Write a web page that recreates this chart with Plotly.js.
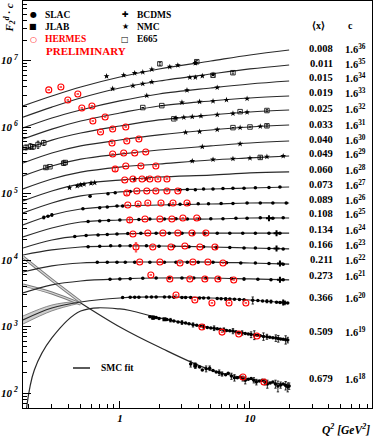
<!DOCTYPE html>
<html>
<head>
<meta charset="utf-8">
<script src="https://cdn.plot.ly/plotly-3.0.1.min.js"></script>
<style>
  html, body { margin: 0; padding: 0; background: #fff; }
  #chart { width: 374px; height: 438px; }
</style>
</head>
<body>
<div id="chart"></div>
<script>
/* global Plotly */

// x bins and the multiplier exponent c = 1.6^k
const xBins = [0.008, 0.011, 0.015, 0.019, 0.025, 0.033, 0.040, 0.049, 0.060, 0.073, 0.089, 0.108, 0.134, 0.166, 0.211, 0.273, 0.366, 0.509, 0.679];
const cPowers = [36, 35, 34, 33, 32, 31, 30, 29, 28, 27, 26, 25, 24, 23, 22, 21, 20, 19, 18];

// SMC fit, F2 per bin
const fitQ2 = [0.18, 0.3, 0.5, 1, 2, 5, 10, 20];
const fitQ2Peak = [0.19, 0.22, 0.3, 0.5, 1, 2, 5, 10, 20];
const fitQ2Tail = [0.5, 1, 2, 5, 10, 20];
const fit008 = [0.093, 0.131, 0.179, 0.253, 0.334, 0.441, 0.543, 0.645];
const fit011 = [0.101, 0.143, 0.196, 0.277, 0.353, 0.450, 0.535, 0.614];
const fit015 = [0.111, 0.157, 0.207, 0.283, 0.360, 0.443, 0.509, 0.564];
const fit019 = [0.121, 0.171, 0.226, 0.298, 0.380, 0.452, 0.501, 0.537];
const fit025 = [0.133, 0.187, 0.239, 0.304, 0.375, 0.445, 0.494, 0.529];
const fit033 = [0.135, 0.191, 0.244, 0.300, 0.357, 0.424, 0.470, 0.504];
const fit040 = [0.138, 0.195, 0.248, 0.295, 0.339, 0.390, 0.432, 0.463];
const fit049 = [0.141, 0.199, 0.253, 0.301, 0.334, 0.384, 0.412, 0.441];
const fit060 = [0.149, 0.210, 0.268, 0.307, 0.341, 0.365, 0.392, 0.406];
const fit073 = [0.157, 0.222, 0.283, 0.325, 0.348, 0.360, 0.373, 0.386];
const fit089 = [0.166, 0.234, 0.288, 0.320, 0.331, 0.343, 0.355, 0.355];
const fit108 = [0.175, 0.239, 0.294, 0.315, 0.326, 0.326, 0.338, 0.338];
const fit134 = [0.191, 0.252, 0.290, 0.311, 0.321, 0.321, 0.321, 0.321];
const fit166 = [0.240, 0.286, 0.317, 0.328, 0.328, 0.317, 0.306, 0.296];
const fit211 = [0.213, 0.263, 0.291, 0.301, 0.301, 0.301, 0.291, 0.281];
const fit273 = [0.165, 0.218, 0.250, 0.268, 0.277, 0.277, 0.268, 0.259];
const fit366 = [0.104, 0.157, 0.193, 0.222, 0.230, 0.222, 0.207, 0.187];
const fit509 = [0.0069, 0.0293, 0.0889, 0.226, 0.243, 0.178, 0.126, 0.102, 0.083];
const fit679 = [0.478, 0.208, 0.104, 0.0469, 0.0344, 0.0279];

// wide error bands of the fit at low Q2
const bandQ2 = [0.18, 0.3, 0.5];
const band366Hi = [0.119, 0.174, 0.200];
const band366Lo = [0.090, 0.142, 0.187];
const band679Hi = [2.35, 1.06, 0.495];
const band679Lo = [0.89, 0.675, 0.46];

// data points: [x bin, Q2, F2, error]
const slac = [
    [0.073, 0.59, 0.28, 0], [0.073, 0.81, 0.305, 0], [0.073, 0.92, 0.315, 0], [0.073, 1.2, 0.33, 0], [0.073, 2.9, 0.35, 0], [0.073, 3.3, 0.355, 0], [0.073, 3.8, 0.35, 0], [0.073, 4.4, 0.36, 0], [0.073, 5.2, 0.36, 0], [0.073, 6.2, 0.365, 0], [0.073, 7.4, 0.37, 0], [0.073, 9.0, 0.37, 0], [0.073, 11, 0.375, 0], [0.073, 14, 0.38, 0], [0.073, 17, 0.385, 0],
    [0.089, 0.26, 0.215, 0.01], [0.089, 0.28, 0.225, 0], [0.089, 0.30, 0.235, 0.01], [0.089, 0.52, 0.29, 0], [0.089, 0.70, 0.30, 0], [0.089, 0.80, 0.31, 0], [0.089, 0.95, 0.32, 0], [0.089, 1.05, 0.32, 0], [0.089, 2.4, 0.335, 0], [0.089, 2.9, 0.34, 0], [0.089, 3.4, 0.34, 0], [0.089, 4.0, 0.345, 0], [0.089, 4.8, 0.345, 0], [0.089, 6.0, 0.35, 0], [0.089, 7.4, 0.35, 0], [0.089, 9.5, 0.355, 0], [0.089, 12, 0.355, 0], [0.089, 15, 0.355, 0], [0.089, 19, 0.355, 0],
    [0.108, 0.57, 0.30, 0], [0.108, 0.70, 0.305, 0], [0.108, 0.82, 0.31, 0], [0.108, 1.0, 0.315, 0], [0.108, 1.4, 0.32, 0], [0.108, 1.7, 0.325, 0], [0.108, 2.2, 0.325, 0], [0.108, 2.7, 0.33, 0], [0.108, 3.3, 0.325, 0], [0.108, 4.1, 0.33, 0], [0.108, 5.0, 0.33, 0], [0.108, 6.2, 0.33, 0], [0.108, 7.8, 0.335, 0], [0.108, 9.5, 0.335, 0], [0.108, 12, 0.34, 0], [0.108, 15, 0.335, 0], [0.108, 18, 0.34, 0],
    [0.134, 0.45, 0.285, 0], [0.134, 0.55, 0.295, 0], [0.134, 0.68, 0.30, 0], [0.134, 0.80, 0.305, 0], [0.134, 0.95, 0.31, 0], [0.134, 1.15, 0.315, 0], [0.134, 1.45, 0.32, 0], [0.134, 1.9, 0.32, 0], [0.134, 2.4, 0.32, 0], [0.134, 3.0, 0.32, 0], [0.134, 3.7, 0.315, 0], [0.134, 4.5, 0.32, 0], [0.134, 5.6, 0.32, 0], [0.134, 7, 0.32, 0], [0.134, 8.8, 0.32, 0], [0.134, 11, 0.32, 0], [0.134, 14, 0.32, 0], [0.134, 17, 0.32, 0],
    [0.166, 0.57, 0.32, 0], [0.166, 0.7, 0.325, 0], [0.166, 0.85, 0.33, 0], [0.166, 1.0, 0.33, 0], [0.166, 1.2, 0.33, 0], [0.166, 1.6, 0.33, 0], [0.166, 2.0, 0.325, 0], [0.166, 2.6, 0.325, 0], [0.166, 3.4, 0.32, 0], [0.166, 4.4, 0.32, 0], [0.166, 5.5, 0.315, 0], [0.166, 7, 0.31, 0], [0.166, 9, 0.305, 0], [0.166, 11, 0.305, 0], [0.166, 14, 0.30, 0], [0.166, 18, 0.295, 0],
    [0.211, 0.67, 0.30, 0], [0.211, 0.8, 0.30, 0], [0.211, 0.95, 0.30, 0], [0.211, 1.1, 0.30, 0], [0.211, 1.3, 0.30, 0], [0.211, 1.7, 0.30, 0], [0.211, 2.2, 0.30, 0], [0.211, 2.7, 0.30, 0], [0.211, 3.3, 0.30, 0], [0.211, 4.0, 0.30, 0], [0.211, 5.2, 0.30, 0], [0.211, 6.6, 0.295, 0], [0.211, 8.5, 0.29, 0], [0.211, 11, 0.29, 0], [0.211, 14, 0.285, 0], [0.211, 18, 0.28, 0],
    [0.273, 0.84, 0.265, 0], [0.273, 1.0, 0.268, 0], [0.273, 1.2, 0.27, 0], [0.273, 1.5, 0.275, 0], [0.273, 1.9, 0.277, 0], [0.273, 2.4, 0.277, 0], [0.273, 3.0, 0.277, 0], [0.273, 3.7, 0.277, 0], [0.273, 4.6, 0.277, 0], [0.273, 5.8, 0.275, 0], [0.273, 7.2, 0.272, 0], [0.273, 9, 0.268, 0.01], [0.273, 11.5, 0.265, 0], [0.273, 14.5, 0.262, 0], [0.273, 18, 0.26, 0],
    [0.366, 1.05, 0.225, 0], [0.366, 1.2, 0.227, 0], [0.366, 1.4, 0.228, 0], [0.366, 1.6, 0.23, 0], [0.366, 1.9, 0.23, 0], [0.366, 2.2, 0.23, 0], [0.366, 2.6, 0.228, 0], [0.366, 3.0, 0.226, 0], [0.366, 3.5, 0.225, 0], [0.366, 4.1, 0.222, 0], [0.366, 4.8, 0.222, 0], [0.366, 5.6, 0.218, 0], [0.366, 6.5, 0.215, 0.01], [0.366, 7.6, 0.212, 0], [0.366, 9, 0.208, 0], [0.366, 10.5, 0.205, 0.025], [0.366, 12.5, 0.20, 0], [0.366, 14.5, 0.196, 0.01], [0.366, 17, 0.19, 0], [0.366, 19.5, 0.187, 0],
    [0.366, 1.3, 0.228, 0], [0.366, 1.75, 0.23, 0], [0.366, 2.4, 0.229, 0], [0.366, 3.2, 0.226, 0], [0.366, 4.4, 0.222, 0], [0.366, 6, 0.216, 0], [0.366, 7, 0.214, 0], [0.366, 8.3, 0.21, 0], [0.366, 11.5, 0.203, 0], [0.366, 13.5, 0.198, 0.01], [0.366, 16, 0.192, 0], [0.366, 18.5, 0.188, 0.012],
    [0.509, 1.7, 0.185, 0], [0.509, 2.0, 0.175, 0], [0.509, 2.3, 0.168, 0], [0.509, 2.6, 0.16, 0], [0.509, 3.0, 0.152, 0.01], [0.509, 3.4, 0.145, 0], [0.509, 3.9, 0.138, 0], [0.509, 4.4, 0.132, 0.01], [0.509, 5.0, 0.126, 0], [0.509, 5.6, 0.122, 0], [0.509, 6.3, 0.118, 0.008], [0.509, 7.0, 0.114, 0], [0.509, 7.8, 0.11, 0], [0.509, 8.7, 0.106, 0.008], [0.509, 9.7, 0.102, 0], [0.509, 10.8, 0.099, 0.015], [0.509, 12, 0.096, 0], [0.509, 13.5, 0.093, 0.008], [0.509, 15, 0.090, 0], [0.509, 16.5, 0.087, 0.01], [0.509, 18, 0.085, 0], [0.509, 19.5, 0.083, 0.008],
    [0.509, 1.9, 0.18, 0], [0.509, 2.45, 0.165, 0.01], [0.509, 2.8, 0.155, 0], [0.509, 3.2, 0.15, 0], [0.509, 3.65, 0.14, 0.01], [0.509, 4.15, 0.136, 0], [0.509, 4.7, 0.128, 0], [0.509, 5.3, 0.125, 0.01], [0.509, 5.9, 0.12, 0], [0.509, 6.6, 0.115, 0], [0.509, 7.4, 0.113, 0.01], [0.509, 8.2, 0.107, 0], [0.509, 9.2, 0.104, 0], [0.509, 10.2, 0.1, 0.01], [0.509, 11.4, 0.098, 0], [0.509, 12.7, 0.094, 0.012], [0.509, 14.2, 0.091, 0], [0.509, 15.8, 0.089, 0.01], [0.509, 17.2, 0.086, 0], [0.509, 18.8, 0.084, 0.012],
    [0.679, 3.5, 0.058, 0.006], [0.679, 4.1, 0.052, 0], [0.679, 4.6, 0.049, 0.005], [0.679, 5.2, 0.046, 0], [0.679, 5.8, 0.043, 0.004], [0.679, 6.5, 0.040, 0], [0.679, 7.2, 0.038, 0.004], [0.679, 8, 0.036, 0], [0.679, 8.8, 0.035, 0.003], [0.679, 9.7, 0.034, 0], [0.679, 10.7, 0.033, 0.003], [0.679, 11.8, 0.032, 0], [0.679, 13, 0.031, 0.003], [0.679, 14.3, 0.030, 0], [0.679, 15.7, 0.029, 0.004], [0.679, 17.2, 0.028, 0.003], [0.679, 18.8, 0.0275, 0.004], [0.679, 20, 0.027, 0.003],
    [0.679, 3.8, 0.054, 0.004], [0.679, 4.3, 0.047, 0], [0.679, 4.9, 0.050, 0.004], [0.679, 5.5, 0.044, 0], [0.679, 6.1, 0.041, 0.003], [0.679, 6.8, 0.042, 0], [0.679, 7.6, 0.036, 0.004], [0.679, 8.4, 0.037, 0], [0.679, 9.2, 0.033, 0.004], [0.679, 10.2, 0.035, 0], [0.679, 11.2, 0.031, 0.003], [0.679, 12.4, 0.033, 0], [0.679, 13.6, 0.029, 0.004], [0.679, 15, 0.031, 0], [0.679, 16.4, 0.027, 0.005], [0.679, 18, 0.029, 0], [0.679, 19.5, 0.026, 0.004]
];

const nmc = [
    [0.008, 0.79, 0.26, 0], [0.008, 1.07, 0.27, 0], [0.008, 1.30, 0.29, 0], [0.008, 1.50, 0.30, 0], [0.008, 1.76, 0.33, 0], [0.008, 2.42, 0.36, 0], [0.008, 2.79, 0.38, 0], [0.008, 3.8, 0.41, 0.02],
    [0.011, 0.88, 0.27, 0], [0.011, 1.26, 0.30, 0], [0.011, 1.50, 0.32, 0], [0.011, 1.76, 0.34, 0], [0.011, 3.45, 0.40, 0], [0.011, 3.8, 0.40, 0], [0.011, 4.3, 0.42, 0], [0.011, 5.2, 0.44, 0],
    [0.015, 1.61, 0.34, 0], [0.015, 3.28, 0.41, 0], [0.015, 5.6, 0.45, 0],
    [0.019, 3.0, 0.43, 0], [0.019, 4.1, 0.44, 0], [0.019, 5.2, 0.45, 0], [0.019, 6.6, 0.47, 0], [0.019, 9.5, 0.49, 0],
    [0.025, 2.7, 0.40, 0], [0.025, 3.1, 0.41, 0], [0.025, 3.6, 0.42, 0], [0.025, 4.2, 0.43, 0], [0.025, 5.6, 0.45, 0], [0.025, 7.4, 0.47, 0], [0.025, 9.5, 0.49, 0],
    [0.033, 3.2, 0.39, 0], [0.033, 4.1, 0.40, 0], [0.033, 5.6, 0.43, 0], [0.033, 8.4, 0.46, 0], [0.033, 12, 0.48, 0],
    [0.040, 4.3, 0.38, 0], [0.040, 8.4, 0.42, 0],
    [0.049, 3.6, 0.37, 0], [0.049, 5.2, 0.39, 0], [0.049, 7.4, 0.40, 0], [0.049, 10, 0.41, 0], [0.049, 13.5, 0.43, 0], [0.049, 18, 0.44, 0],
    [0.060, 0.41, 0.235, 0], [0.060, 0.47, 0.25, 0], [0.060, 0.50, 0.26, 0.01], [0.060, 0.53, 0.265, 0], [0.060, 0.60, 0.275, 0.01], [0.060, 0.64, 0.28, 0], [0.060, 1.3, 0.315, 0], [0.060, 1.6, 0.32, 0]
];

const e665 = [
    [0.008, 2.03, 0.40, 0.02], [0.008, 3.9, 0.43, 0.02],
    [0.011, 5.2, 0.43, 0], [0.011, 7.4, 0.47, 0.02],
    [0.019, 1.5, 0.36, 0], [0.019, 2.1, 0.385, 0],
    [0.025, 0.19, 0.145, 0.012], [0.025, 0.205, 0.15, 0.015], [0.025, 0.215, 0.148, 0.012], [0.025, 0.235, 0.16, 0.02], [0.025, 0.26, 0.17, 0.015], [0.025, 2.6, 0.39, 0], [0.025, 8.4, 0.50, 0], [0.025, 13.5, 0.52, 0.02],
    [0.033, 7.4, 0.46, 0], [0.033, 10, 0.47, 0], [0.033, 13.5, 0.49, 0.02],
    [0.040, 0.27, 0.185, 0.01], [0.040, 0.29, 0.19, 0], [0.040, 0.37, 0.215, 0.015], [0.040, 0.38, 0.22, 0],
    [0.049, 12, 0.42, 0.02]
];

const bcdms = [
    [0.108, 14, 0.335, 0], [0.134, 16, 0.32, 0], [0.166, 16, 0.30, 0], [0.211, 17, 0.285, 0], [0.273, 17, 0.26, 0], [0.366, 18, 0.19, 0]
];

const jlab = [
    [0.509, 1.8, 0.18, 0.01], [0.509, 2.2, 0.17, 0], [0.679, 3.8, 0.055, 0.005]
];

const hermes = [
    [0.008, 0.284, 0.162, 0], [0.008, 0.352, 0.179, 0],
    [0.011, 0.398, 0.183, 0], [0.011, 0.475, 0.225, 0],
    [0.015, 0.51, 0.222, 0], [0.015, 0.61, 0.238, 0],
    [0.019, 0.62, 0.226, 0], [0.019, 0.77, 0.260, 0],
    [0.025, 0.71, 0.247, 0], [0.025, 0.88, 0.274, 0], [0.025, 1.11, 0.294, 0],
    [0.033, 0.87, 0.270, 0], [0.033, 1.13, 0.290, 0], [0.033, 1.40, 0.310, 0],
    [0.040, 0.88, 0.295, 0], [0.040, 1.07, 0.306, 0], [0.040, 1.30, 0.306, 0], [0.040, 1.58, 0.317, 0],
    [0.049, 0.92, 0.281, 0.02], [0.049, 1.11, 0.312, 0], [0.049, 1.45, 0.312, 0], [0.049, 1.89, 0.312, 0],
    [0.060, 1.09, 0.307, 0], [0.060, 1.26, 0.318, 0], [0.060, 1.48, 0.318, 0], [0.060, 1.70, 0.318, 0], [0.060, 1.96, 0.318, 0], [0.060, 2.30, 0.318, 0],
    [0.073, 1.13, 0.314, 0.02], [0.073, 1.35, 0.336, 0], [0.073, 1.61, 0.336, 0], [0.073, 1.89, 0.336, 0], [0.073, 2.30, 0.336, 0], [0.073, 2.79, 0.336, 0],
    [0.089, 1.15, 0.331, 0], [0.089, 1.38, 0.343, 0], [0.089, 1.64, 0.355, 0], [0.089, 2.07, 0.355, 0], [0.089, 2.56, 0.355, 0], [0.089, 3.28, 0.355, 0],
    [0.108, 1.19, 0.315, 0.025], [0.108, 1.56, 0.326, 0], [0.108, 2.03, 0.326, 0], [0.108, 2.51, 0.326, 0], [0.108, 3.05, 0.338, 0], [0.108, 3.9, 0.338, 0],
    [0.134, 1.26, 0.311, 0], [0.134, 1.64, 0.321, 0], [0.134, 2.14, 0.321, 0], [0.134, 2.79, 0.321, 0], [0.134, 3.58, 0.321, 0], [0.134, 4.58, 0.321, 0],
    [0.166, 1.33, 0.317, 0.05], [0.166, 1.79, 0.317, 0], [0.166, 2.47, 0.317, 0], [0.166, 3.16, 0.328, 0], [0.166, 4.12, 0.317, 0], [0.166, 5.38, 0.317, 0],
    [0.211, 1.42, 0.301, 0], [0.211, 2.03, 0.301, 0], [0.211, 2.9, 0.291, 0], [0.211, 3.64, 0.301, 0], [0.211, 4.75, 0.301, 0], [0.211, 6.2, 0.291, 0],
    [0.273, 1.73, 0.308, 0], [0.273, 2.42, 0.268, 0], [0.273, 3.45, 0.268, 0], [0.273, 4.5, 0.268, 0], [0.273, 5.67, 0.268, 0], [0.273, 7.5, 0.259, 0],
    [0.366, 2.70, 0.246, 0], [0.366, 3.77, 0.207, 0], [0.366, 5.1, 0.187, 0], [0.366, 6.9, 0.187, 0], [0.366, 9.3, 0.187, 0],
    [0.509, 4.27, 0.130, 0], [0.509, 6.1, 0.109, 0], [0.509, 8.2, 0.102, 0], [0.509, 11.3, 0.095, 0],
    [0.679, 8.83, 0.0368, 0], [0.679, 12.8, 0.031, 0]
];

const fitValues = [fit008, fit011, fit015, fit019, fit025, fit033, fit040, fit049, fit060, fit073, fit089, fit108, fit134, fit166, fit211, fit273, fit366, fit509, fit679];

const FONT = 'Liberation Serif, Times New Roman, serif';

function scaleOf(xb) {
    return Math.pow(1.6, cPowers[xBins.indexOf(xb)]);
}

function gridOf(xb) {
    if (xb === 0.509) return fitQ2Peak;
    if (xb === 0.679) return fitQ2Tail;
    return fitQ2;
}

function buildFitLine(xb, values) {
    const c = scaleOf(xb);
    return {
        x: gridOf(xb),
        y: values.map(v => v * c),
        mode: 'lines',
        type: 'scatter',
        line: { shape: 'spline', color: '#2a2a2a', width: 1.2 },
        hoverinfo: 'skip',
        showlegend: false
    };
}

// band edges drawn as grey double lines (dark outer stroke + light core)
function buildBandEdge(xb, values) {
    const c = scaleOf(xb);
    const base = { x: bandQ2, y: values.map(v => v * c), mode: 'lines', type: 'scatter', hoverinfo: 'skip', showlegend: false };
    return [
        Object.assign({}, base, { line: { shape: 'spline', color: '#7a7a7a', width: 3 } }),
        Object.assign({}, base, { line: { shape: 'spline', color: '#d8d8d8', width: 1.2 } })
    ];
}

function buildBandFill(xb, hi, lo) {
    const c = scaleOf(xb);
    const edge = { shape: 'spline', color: '#808080', width: 0.9 };
    return [
        { x: bandQ2, y: hi.map(v => v * c), mode: 'lines', type: 'scatter', line: edge, hoverinfo: 'skip', showlegend: false },
        { x: bandQ2, y: lo.map(v => v * c), mode: 'lines', type: 'scatter', line: edge, fill: 'tonexty', fillcolor: 'rgba(185,185,185,0.7)', hoverinfo: 'skip', showlegend: false }
    ];
}

function buildPoints(points, marker, barColor) {
    return {
        x: points.map(p => p[1]),
        y: points.map(p => p[2] * scaleOf(p[0])),
        error_y: {
            type: 'data',
            array: points.map(p => p[3] * scaleOf(p[0])),
            visible: true,
            width: 1.2,
            thickness: 0.8,
            color: barColor
        },
        mode: 'markers',
        type: 'scatter',
        marker,
        hoverinfo: 'skip',
        showlegend: false
    };
}

const traces = [];
traces.push(...buildBandFill(0.366, band366Hi, band366Lo));
traces.push(...buildBandEdge(0.679, band679Hi));
traces.push(...buildBandEdge(0.679, band679Lo));
xBins.forEach((xb, i) => traces.push(buildFitLine(xb, fitValues[i])));
traces.push(buildPoints(slac, { symbol: 'circle', size: 3.5, color: '#000' }, '#000'));
traces.push(buildPoints(nmc, { symbol: 'star', size: 4.5, color: '#000' }, '#000'));
traces.push(buildPoints(e665, { symbol: 'square-open', size: 4.5, color: '#000', line: { width: 0.8 } }, '#000'));
traces.push(buildPoints(bcdms, { symbol: 'cross', size: 5, color: '#000' }, '#000'));
traces.push(buildPoints(jlab, { symbol: 'square', size: 4, color: '#000' }, '#000'));
traces.push(buildPoints(hermes, { symbol: 'circle-open', size: 6, color: '#f00', line: { width: 1.1, color: '#f00' } }, '#f00'));

// plot area in pixels: x 23..372, y 1..408
const PX = px => (px - 23) / 349;
const PY = py => (408 - py) / 407;

const annotations = [];
function addText(text, x, y, opts = {}) {
    annotations.push(Object.assign({
        text, xref: 'paper', yref: 'paper', x: PX(x), y: PY(y),
        showarrow: false, xanchor: 'left', yanchor: 'middle',
        font: { family: FONT, size: 9.5, color: '#000', weight: 'bold' }
    }, opts));
}

// legend
const legendRows = [
    ['\u25CF', 'SLAC', '#000', 33, 15],
    ['\u25A0', 'JLAB', '#000', 33, 27],
    ['\u25CB', 'HERMES', '#f00', 33, 39],
    ['\u271A', 'BCDMS', '#000', 125, 15],
    ['\u2605', 'NMC', '#000', 125, 27],
    ['\u25A1', 'E665', '#000', 125, 39]
];
legendRows.forEach(([sym, name, color, x, y]) => {
    addText(sym, x, y, { xanchor: 'center', font: { family: 'DejaVu Sans', size: 8, color } });
    addText(name, x + 10, y, { font: { family: FONT, size: 9.5, color, weight: 'bold' } });
});
addText('PRELIMINARY', 44, 51, { font: { family: FONT, size: 11, color: '#f00', weight: 'bold' } });

// SMC fit legend
addText('SMC fit', 99, 368);

// table
addText('\u27E8x\u27E9', 318, 25, { xanchor: 'center', font: { family: FONT, size: 10, weight: 'bold', color: '#000' } });
addText('c', 350, 25, { xanchor: 'center', font: { family: FONT, size: 10, weight: 'bold', color: '#000' } });
const rowPx = [48, 63, 78, 93, 108, 124, 139, 154, 169, 184, 199, 214, 229, 244, 259, 275, 297, 331, 378];
xBins.forEach((xb, i) => {
    addText(xb.toFixed(3), 321, rowPx[i], { xanchor: 'center', font: { family: FONT, size: 10.5, weight: 'bold', color: '#000' } });
    addText('1.6<sup>' + cPowers[i] + '</sup>', 343, rowPx[i], { font: { family: FONT, size: 10.5, weight: 'bold', color: '#000' } });
});

// axis titles
addText('<i>Q<sup>2</sup> [GeV<sup>2</sup>]</i>', 372, 429, { xanchor: 'right', font: { family: FONT, size: 11.5, weight: 'bold', color: '#000' } });
annotations.push({
    text: '<i>F<sub>2</sub><sup>d</sup> \u00B7 c</i>', xref: 'paper', yref: 'paper', x: PX(9), y: PY(1),
    textangle: -90, showarrow: false, xanchor: 'center', yanchor: 'top',
    font: { family: FONT, size: 11, weight: 'bold', color: '#000' }
});

const tickFont = { family: FONT, size: 11, weight: 'bold', style: 'italic', color: '#000' };

const layout = {
    width: 374,
    height: 438,
    margin: { l: 23, r: 2, t: 1, b: 30 },
    paper_bgcolor: '#fff',
    plot_bgcolor: '#fff',
    showlegend: false,
    xaxis: {
        type: 'log',
        range: [Math.log10(0.18), 1.938],
        showgrid: false,
        zeroline: false,
        showline: true,
        linecolor: '#000',
        linewidth: 1,
        mirror: true,
        ticks: 'inside',
        ticklen: 7,
        tickcolor: '#000',
        tickvals: [1, 10],
        ticktext: ['1', '10'],
        tickfont: tickFont,
        minor: { ticks: 'inside', ticklen: 4, tickcolor: '#000', dtick: 'D1', showgrid: false }
    },
    yaxis: {
        type: 'log',
        range: [1.7744, 7.8947],
        showgrid: false,
        zeroline: false,
        showline: true,
        linecolor: '#000',
        linewidth: 1,
        mirror: true,
        ticks: 'inside',
        ticklen: 8,
        tickcolor: '#000',
        tickvals: [1e2, 1e3, 1e4, 1e5, 1e6, 1e7],
        ticktext: ['10<sup> 2</sup>', '10<sup> 3</sup>', '10<sup> 4</sup>', '10<sup> 5</sup>', '10<sup> 6</sup>', '10<sup> 7</sup>'],
        tickfont: tickFont,
        ticklabelstandoff: 2,
        minor: { ticks: 'inside', ticklen: 4, tickcolor: '#000', dtick: 'D1', showgrid: false }
    },
    shapes: [
        { type: 'line', xref: 'paper', yref: 'paper', x0: PX(73), x1: PX(90), y0: PY(368), y1: PY(368), line: { color: '#000', width: 1.3 } }
    ],
    annotations
};

Plotly.newPlot('chart', traces, layout, { displayModeBar: false, staticPlot: true });
</script>
</body>
</html>
